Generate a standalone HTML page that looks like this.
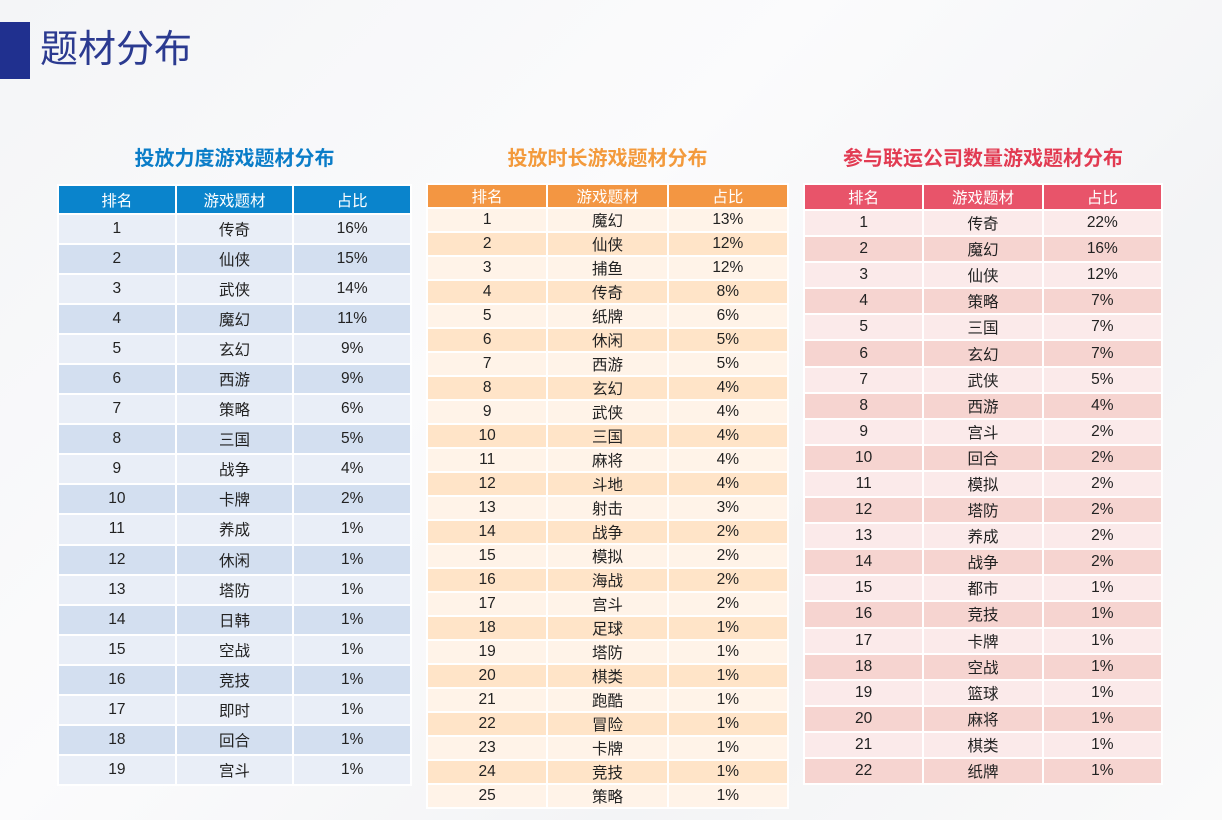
<!DOCTYPE html>
<html><head><meta charset="utf-8">
<style>
body{margin:0;width:1222px;height:820px;overflow:hidden;background:linear-gradient(135deg,#f4f5f7 0%,#fbfbfc 40%,#f3f4f6 70%,#fafafa 100%);font-family:"Liberation Sans","Noto Sans CJK SC",sans-serif;position:relative}
.bar{position:absolute;left:0;top:22px;width:30px;height:57px;background:#20308f}
.title{position:absolute;left:40px;top:26px;font-size:38px;color:#2b3a90;line-height:48px}
.tt{position:absolute;font-size:20px;font-weight:bold;text-align:center;line-height:24px}
table{position:absolute;border-collapse:collapse;table-layout:fixed}
td,th{border:2px solid #fff;text-align:center;padding:0;font-size:15.5px;color:#222;font-weight:normal}
th{color:#fff;font-size:15.5px}
</style></head><body>
<div class="bar"></div>
<div class="title">题材分布</div>
<div class="tt" style="left:58px;width:353px;top:147px;color:#0b7dc8">投放力度游戏题材分布</div>
<div class="tt" style="left:427px;width:361px;top:147px;color:#f39a3c">投放时长游戏题材分布</div>
<div class="tt" style="left:804px;width:358px;top:147px;color:#e23b52">参与联运公司数量游戏题材分布</div>
<script>
const genres1=["传奇","仙侠","武侠","魔幻","玄幻","西游","策略","三国","战争","卡牌","养成","休闲","塔防","日韩","空战","竞技","即时","回合","宫斗"];
const shares1=[16,15,14,11,9,9,6,5,4,2,1,1,1,1,1,1,1,1,1];
const genres2=["魔幻","仙侠","捕鱼","传奇","纸牌","休闲","西游","玄幻","武侠","三国","麻将","斗地","射击","战争","模拟","海战","宫斗","足球","塔防","棋类","跑酷","冒险","卡牌","竞技","策略"];
const shares2=[13,12,12,8,6,5,5,4,4,4,4,4,3,2,2,2,2,1,1,1,1,1,1,1,1];
const genres3=["传奇","魔幻","仙侠","策略","三国","玄幻","武侠","西游","宫斗","回合","模拟","塔防","养成","战争","都市","竞技","卡牌","空战","篮球","麻将","棋类","纸牌"];
const shares3=[22,16,12,7,7,7,5,4,2,2,2,2,2,2,1,1,1,1,1,1,1,1];
function build(id,genres,shares,x,y,w,hh,rh,hc,c1,c2){
  const t=document.createElement('table');
  
  
  t.style.left=(x-1)+'px';t.style.top=(y-1)+'px';t.style.width=(w+2)+'px';
  const hr=document.createElement('tr');
  ["排名","游戏题材","占比"].forEach(h=>{const th=document.createElement('th');th.textContent=h;th.style.background=hc;th.style.height=(hh-2)+'px';
    
    
    hr.appendChild(th);});
  t.appendChild(hr);
  genres.forEach((g,i)=>{const tr=document.createElement('tr');
    
    
    [i+1,g,shares[i]+'%'].forEach(v=>{const td=document.createElement('td');td.textContent=v;td.style.background=i%2?c2:c1;td.style.height=(rh-2)+'px';
      
      
      tr.appendChild(td);});
    t.appendChild(tr);});
  document.body.appendChild(t);
}
build('table-ad-intensity',genres1,shares1,58,185,353,29,30.05,'#0a84cc','#e9eef7','#d3dff0');
build('table-ad-duration',genres2,shares2,427,184,361,24,23.3,'#f39642','#fff3e8','#ffe4c8');
build('table-partner-count',genres3,shares3,804,184,358,26,26.1,'#e8546a','#fbeaea','#f6d4d0');
</script>
</body></html>
